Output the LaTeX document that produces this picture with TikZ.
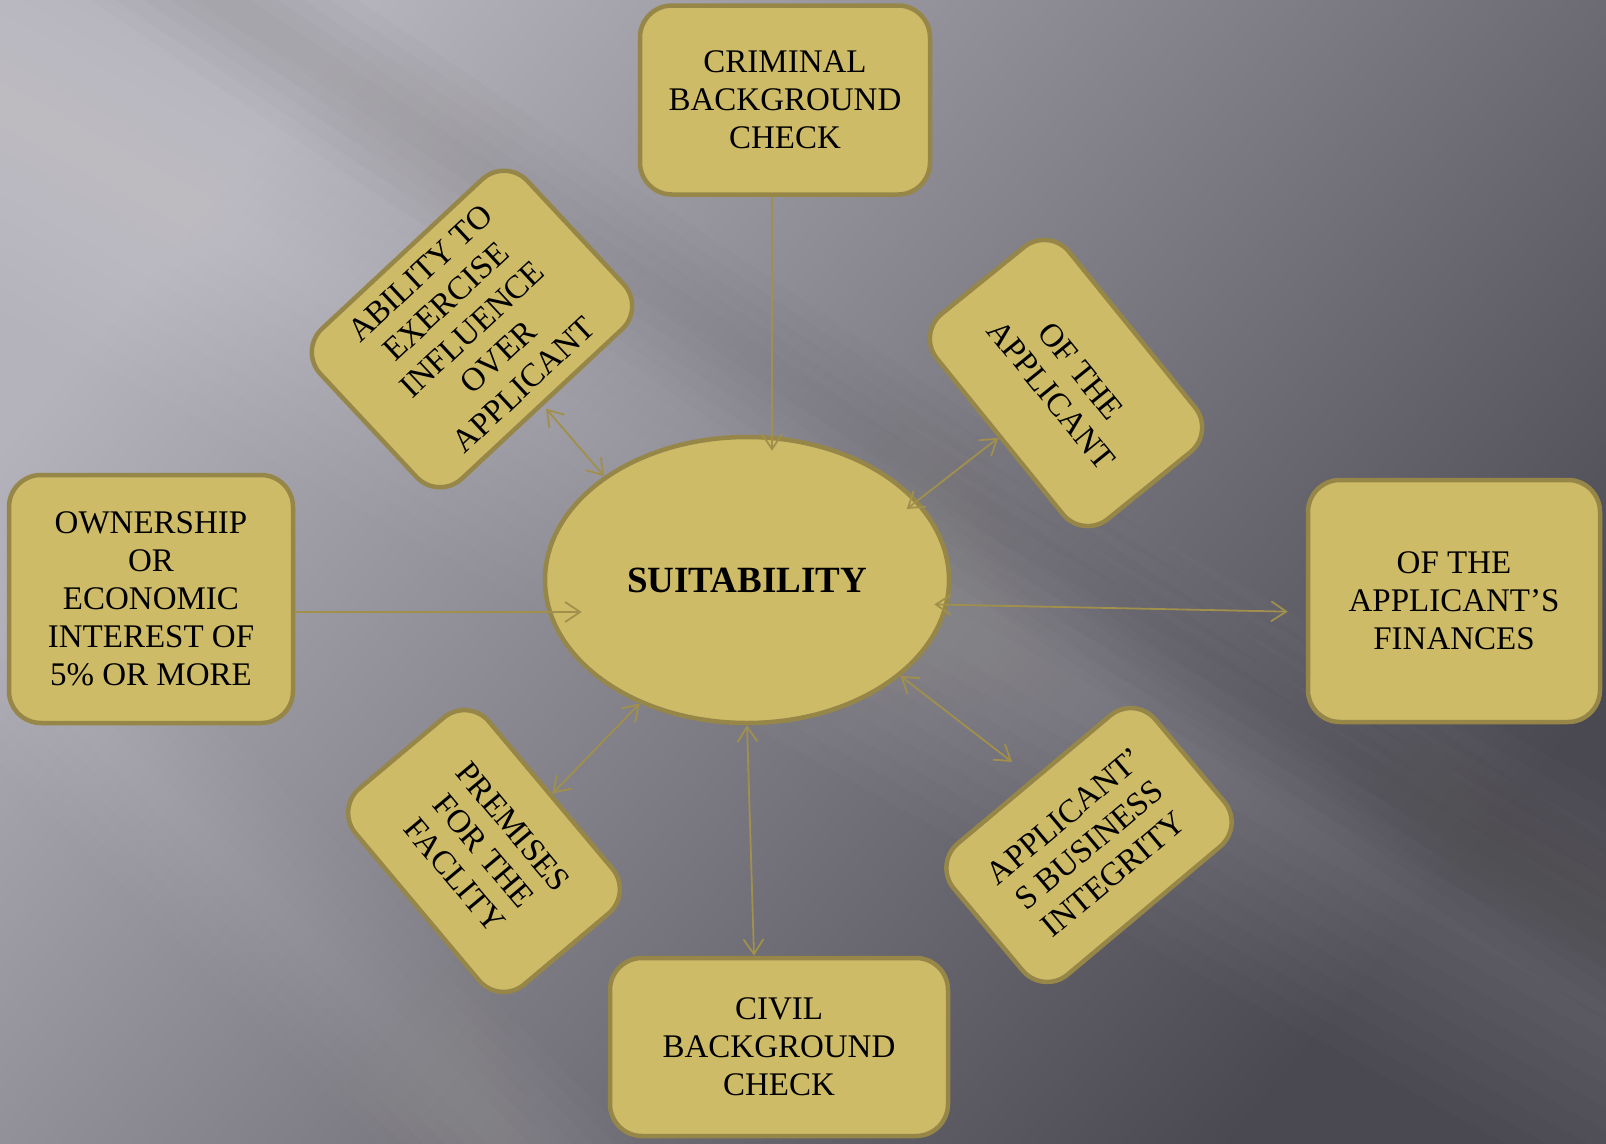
\documentclass[tikz,border=0pt]{standalone}
\usepackage{fontspec}
\setmainfont{Liberation Serif}
\usepackage{xcolor}
\usetikzlibrary{calc}
\usetikzlibrary{positioning}
\usetikzlibrary{arrows.meta}
\usetikzlibrary{shapes.geometric}
\usepackage{tikz}

\definecolor{goldfill}{RGB}{206,187,104}
\definecolor{goldline}{RGB}{150,135,72}
\definecolor{linkcol}{RGB}{160,144,76}
\definecolor{bgtl}{RGB}{180,178,186}
\definecolor{bgmid}{RGB}{112,110,118}
\definecolor{bgbr}{RGB}{74,72,80}

\tikzset{
  box/.style={draw=goldline, fill=goldfill, line width=4.5pt, rounded corners=32pt,
    align=center, inner sep=2pt, text=black, font=\fontsize{33}{38}\selectfont},
  hub/.style={ellipse, draw=goldline, fill=goldfill, line width=4.5pt,
    minimum width=404pt, minimum height=286pt, font=\bfseries\fontsize{37}{40}\selectfont},
  link/.style={draw=linkcol, line width=1.8pt},
  >={Straight Barb[length=15pt,width=20pt]}
}

\begin{document}
\begin{tikzpicture}[x=1pt,y=-1pt]
  \useasboundingbox (0,0) rectangle (1606,1143);

  % background
  \shade [top color=bgtl, middle color=bgmid, bottom color=bgbr, shading angle=50] (0,0) rectangle (1606,1143);
  \begin{scope}
    \clip (0,0) rectangle (1606,1143);
    \foreach \w in {20,40,...,180}
    \fill [white, opacity=0.017, shift={(590,430)}, rotate=-29] (-2200,-\w) rectangle (2200,\w);
    \foreach \w in {15,30,...,90}
    \fill [white, opacity=0.014, shift={(290,925)}, rotate=-45] (-1600,-\w) rectangle (1600,\w);
    \foreach \w in {15,30,...,75}
    \fill [black, opacity=0.01, shift={(520,200)}, rotate=-34] (-2000,-\w) rectangle (2000,\w);
  \end{scope}

  \node [hub] (suit) at (747,580) {SUITABILITY};

  \node [box, minimum width=290pt, minimum height=189pt] (crim) at (785,100)
  {CRIMINAL\\BACKGROUND\\CHECK};
  \node [box, minimum width=284pt, minimum height=248pt] (own) at (151,599)
  {OWNERSHIP\\OR\\ECONOMIC\\INTEREST OF\\5\% OR MORE};
  \node [box, minimum width=292pt, minimum height=242pt] (fin) at (1454,601)
  {OF THE\\APPLICANT'S\\FINANCES};
  \node [box, minimum width=338pt, minimum height=178pt] (civ) at (779,1047)
  {CIVIL\\BACKGROUND\\CHECK};

  \node [box, rotate=43, minimum width=283pt, minimum height=205pt] (abil) at (472,329)
  {ABILITY TO\\EXERCISE\\INFLUENCE\\OVER\\APPLICANT};
  \node [box, rotate=-51, minimum width=264pt, minimum height=170pt] (appl) at (1066,383)
  {OF THE\\APPLICANT};
  \node [box, rotate=-50, minimum width=256pt, minimum height=174pt] (prem) at (484,851)
  {PREMISES\\FOR THE\\FACLITY};
  \node [box, rotate=40, minimum width=263pt, minimum height=171pt] (bus) at (1089,845)
  {APPLICANT'\\S BUSINESS\\INTEGRITY};

  \coordinate (crimfoot) at ([xshift=-13pt]crim.south);
  \coordinate (ownout) at ([yshift=-13pt]own.east);

  \draw [link,->,shorten >=-16pt] (crimfoot) -- (crimfoot |- suit.north);
  \draw [link,->,shorten >=-39pt] (ownout) -- (ownout -| suit.west);
  \draw [link,<->,shorten <=-14pt,shorten >=18pt] (suit.-7) -- ([yshift=-11pt]fin.west);
  \draw [link,<->] (suit.south) -- ([xshift=-25pt]civ.north);
  \draw [link,<->,shorten >=4pt] (suit.144) -- (abil.south);
  \draw [link,<->,shorten <=-14pt] (suit.25) -- (appl.south);
  \draw [link,<->] (suit.-131) -- (prem.north);
  \draw [link,<->,shorten >=26pt] (suit.-32) -- (bus.north);

\end{tikzpicture}
\end{document}
